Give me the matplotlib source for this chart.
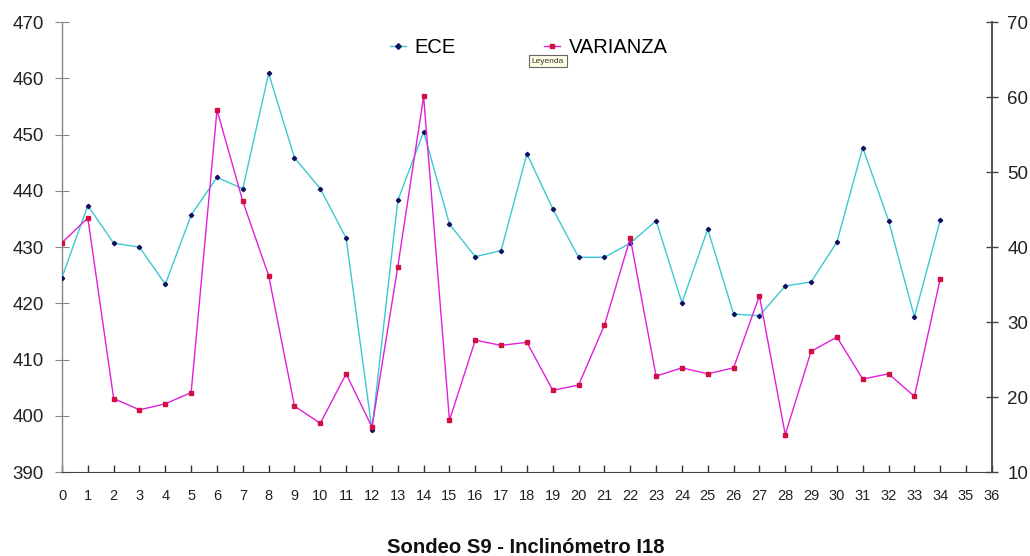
import matplotlib.pyplot as plt

plt.rcParams['font.family'] = ['Liberation Sans', 'DejaVu Sans']

# Lecturas por profundidad del sondeo
profundidad = list(range(35))
ece = [424.6, 437.4, 430.7, 430.0, 423.4, 435.7, 442.4, 440.4, 460.9, 445.9,
       440.4, 431.6, 397.5, 438.3, 450.5, 434.1, 428.3, 429.4, 446.6, 436.8,
       428.2, 428.2, 430.7, 434.7, 420.1, 433.2, 418.1, 417.8, 423.1, 423.8,
       430.9, 447.7, 434.7, 417.6, 434.8]
varianza = [40.6, 43.9, 19.8, 18.3, 19.1, 20.6, 58.3, 46.1, 36.2, 18.8,
            16.5, 23.1, 16.0, 37.4, 60.1, 16.9, 27.6, 26.9, 27.3, 20.9,
            21.6, 29.6, 41.2, 22.8, 23.9, 23.1, 23.9, 33.5, 15.0, 26.1,
            28.0, 22.4, 23.1, 20.1, 35.8]
xticks = list(range(37))

fig = plt.figure(figsize=(10.3, 5.56), dpi=100)
ax = fig.add_axes([0.0602, 0.151, 0.9028, 0.809])
ax2 = ax.twinx()

l1, = ax.plot(profundidad, ece, color='#3cc8d4', lw=1.0, marker='D',
              ms=2.2, mfc='#101060', mec='#101060', label='ECE', zorder=3)
l2, = ax2.plot(profundidad, varianza, color='#e020d8', lw=1.0, marker='s',
               ms=2.4, mfc='#d01040', mec='#d01040', label='VARIANZA', zorder=3)

ax.set_xlim(0, 36)
ax.set_ylim(390, 470)
ax2.set_ylim(10, 70)
ax.set_xticks(xticks)
ax.set_yticks(range(390, 471, 10))
ax2.set_yticks(range(10, 71, 10))

for a in (ax, ax2):
    a.spines['top'].set_visible(False)
ax.spines['right'].set_visible(False)
ax2.spines['left'].set_visible(False)
ax2.spines['bottom'].set_visible(False)
ax.spines['left'].set_color('#888888')
ax.spines['bottom'].set_color('#444444')
ax2.spines['right'].set_color('#444444')
ax.spines['left'].set_linewidth(1.0)
ax2.spines['right'].set_linewidth(1.3)

ax.tick_params(axis='y', direction='inout', length=10, width=0.8,
               colors='#888888', labelcolor='#222222', labelsize=13.5, pad=8)
ax.tick_params(axis='x', direction='in', length=5, width=1.0,
               colors='#333333', labelcolor='#222222', labelsize=10.5, pad=12)
ax2.tick_params(axis='y', direction='inout', length=8, width=1.0,
                colors='#444444', labelcolor='#222222', labelsize=13.5, pad=7)

ax.legend(handles=[l1, l2], loc='upper center', bbox_to_anchor=(0.502, 1.005),
          ncol=2, frameon=False, fontsize=14.5, handlelength=0.8,
          handletextpad=0.4, columnspacing=4.4, markerscale=1.3)

fig.text(0.532, 0.890, 'Leyenda', fontsize=6, ha='center', va='center',
         color='#333333',
         bbox=dict(boxstyle='square,pad=0.3', fc='#ffffe6', ec='#666666', lw=0.8))

fig.text(0.51, 0.006, 'Sondeo S9 - Inclinómetro I18', fontsize=14.6,
         fontweight='bold', ha='center', va='baseline', color='#111111')

fig.savefig('out.png', dpi=100)
